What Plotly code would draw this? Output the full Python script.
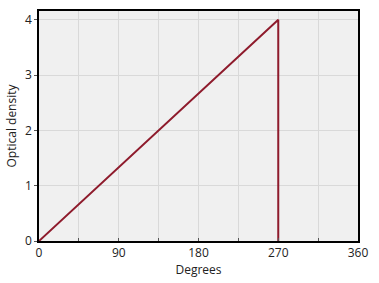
import plotly.graph_objects as go

degrees = [0, 270, 270]
optical_density = [0, 4, 0]
x_tick_vals = [0, 45, 90, 135, 180, 225, 270, 315, 360]
x_tick_text = ["0", "", "90", "", "180", "", "270", "", "360"]
y_tick_vals = [0, 1, 2, 3, 4]

fig = go.Figure()
fig.add_trace(go.Scatter(x=degrees, y=optical_density, mode="lines",
                         line=dict(color="#8e1b2c", width=2), showlegend=False))

font = dict(family="Open Sans, Noto Sans, sans-serif", size=12, color="#222222")
fig.update_layout(
    width=379, height=283,
    margin=dict(l=39, r=21, t=9, b=42),
    paper_bgcolor="white", plot_bgcolor="#f0f0f0",
    font=font,
)
fig.update_xaxes(range=[0, 360], tickvals=x_tick_vals, ticktext=x_tick_text,
                 showgrid=True, gridcolor="#d9d9d9", gridwidth=1,
                 showline=True, linecolor="black", linewidth=1.5, mirror=True,
                 ticks="inside", ticklen=3, tickcolor="#555555",
                 zeroline=False,
                 title=dict(text="Degrees", standoff=4, font=dict(size=12)))
fig.update_yaxes(range=[0, 4.16], tickvals=y_tick_vals,
                 showgrid=True, gridcolor="#d9d9d9", gridwidth=1,
                 showline=True, linecolor="black", linewidth=1.5, mirror=True,
                 ticks="outside", ticklen=3, tickcolor="#555555",
                 zeroline=False,
                 title=dict(text="Optical density", standoff=6, font=dict(size=12)))

fig.write_html("out.html")
